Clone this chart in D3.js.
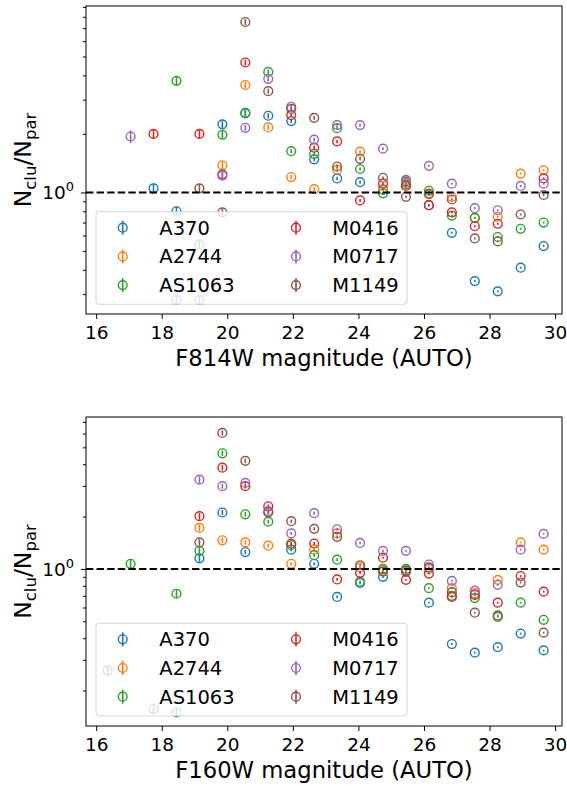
<!DOCTYPE html>
<html>
<head>
<meta charset="utf-8">
<script src="https://cdn.jsdelivr.net/npm/d3@7"></script>
<style>
body { margin: 0; background: #fff; }
text { font-family: "DejaVu Sans", sans-serif; }
</style>
</head>
<body>
<svg id="fig"></svg>
<script>
// magnitude bin centres
var binsF814 = [17.05, 17.75, 18.45, 19.15, 19.85, 20.55, 21.25, 21.95, 22.65, 23.35,
                24.05, 24.75, 25.45, 26.15, 26.85, 27.55, 28.25, 28.95, 29.65];
var binsF160 = [16.35, 17.05, 17.75, 18.45, 19.15, 19.85, 20.55, 21.25, 21.95, 22.65, 23.35,
                24.05, 24.75, 25.45, 26.15, 26.85, 27.55, 28.25, 28.95, 29.65];

var clusters = ['A370', 'A2744', 'AS1063', 'M0416', 'M0717', 'M1149'];
var colors = ['#1f77b4', '#ff7f0e', '#2ca02c', '#d62728', '#9467bd', '#8c564b'];

// N_clu / N_par, F814W panel
var f814_A370   = [null, 1.05, 0.80, null, 2.24, 2.57, 2.48, 2.33, 1.48, 1.18, 1.13, 1.03, 1.14, 0.86, 0.62, 0.35, 0.31, 0.41, 0.53];
var f814_A2744  = [null, null, null, null, 1.38, 3.57, 2.16, 1.20, 1.04, 1.31, 1.62, 1.04, 1.12, 0.99, 0.95, 0.74, 0.75, 1.25, 1.30];
var f814_AS1063 = [null, null, 3.75, 0.54, 1.98, 2.55, 4.17, 1.63, 1.58, 2.14, 1.32, 0.99, 1.10, 1.02, 0.76, 0.74, 0.59, 0.65, 0.70];
var f814_M0416  = [null, 2.00, null, 2.00, 1.24, 4.66, null, 2.50, 1.70, 1.83, 0.91, 1.11, 1.08, 0.86, 0.79, 0.67, 0.69, null, 1.18];
var f814_M0717  = [1.94, null, 0.28, 0.28, 1.22, 2.15, 3.84, 2.76, 1.87, 2.22, 2.22, 1.68, 1.16, 1.37, 1.11, 0.83, 0.81, 1.08, 1.11];
var f814_M1149  = [null, null, null, 1.05, 0.79, 7.53, 3.32, 2.69, 2.42, 1.36, 1.49, 1.19, 0.95, 0.98, 0.92, 0.58, 0.56, 0.77, 0.97];
// fractional error per bin
var f814_err = [0.075, 0.06, 0.055, 0.05, 0.045, 0.035, 0.03, 0.025, 0.022, 0.02, 0.018, 0.016, 0.014, 0.012, 0.012, 0.012, 0.012, 0.012, 0.012];

// N_clu / N_par, F160W panel
var f160_A370   = [0.26, null, null, 0.15, 1.15, 2.11, 1.25, null, 1.29, 1.07, 0.69, 0.83, 0.90, 0.96, 0.64, 0.37, 0.33, 0.355, 0.425, 0.34];
var f160_A2744  = [null, null, null, null, 1.72, 1.46, 1.42, 1.36, 1.07, 1.29, 1.60, 1.02, 0.98, 0.97, 1.00, 0.775, 0.725, 0.865, 1.42, 1.29];
var f160_AS1063 = [null, 1.07, null, 0.72, 1.27, 4.62, 2.06, 1.87, 1.37, 1.20, 1.13, 0.845, 1.00, 1.00, 0.775, 0.70, 0.68, 0.53, 0.64, 0.51];
var f160_M0416  = [null, null, null, null, 2.01, 3.82, 2.99, 2.29, 1.40, 1.40, 0.87, 0.95, 1.16, 0.865, 0.94, 0.69, 0.71, 0.64, 0.91, 0.74];
var f160_M0717  = [null, null, null, null, 3.26, 2.99, 3.12, 2.15, 1.60, 2.09, 1.69, 1.41, 1.27, 1.27, 1.06, 0.853, 0.75, 0.81, 1.29, 1.59];
var f160_M1149  = [null, null, 0.157, null, 1.42, 6.05, 4.18, 2.11, 1.88, 1.70, 1.53, 1.05, 0.965, 0.98, 1.02, 0.735, 0.56, 0.54, 0.835, 0.43];
var f160_err = [0.07, 0.065, 0.06, 0.055, 0.045, 0.035, 0.03, 0.025, 0.022, 0.02, 0.018, 0.016, 0.014, 0.012, 0.012, 0.012, 0.012, 0.012, 0.012, 0.012];

var xTicks = [16, 18, 20, 22, 24, 26, 28, 30];

var width = 567, height = 786;
var svg = d3.select('#fig').attr('width', width).attr('height', height);
svg.append('rect').attr('width', width).attr('height', height).attr('fill', '#fff');

var left = 86, right = 562;

drawPanel({
    bins: binsF814,
    series: [f814_A370, f814_A2744, f814_AS1063, f814_M0416, f814_M0717, f814_M1149],
    err: f814_err,
    xlabel: 'F814W magnitude (AUTO)',
    yDomain: [0.237, 9.1],
    top: 6, bottom: 314,
    legendTop: 211.7
});

drawPanel({
    bins: binsF160,
    series: [f160_A370, f160_A2744, f160_AS1063, f160_M0416, f160_M0717, f160_M1149],
    err: f160_err,
    xlabel: 'F160W magnitude (AUTO)',
    yDomain: [0.125, 7.47],
    top: 417, bottom: 726,
    legendTop: 623.3
});

function drawPanel(p) {
    var x = d3.scaleLinear().domain([15.69, 30.21]).range([left, right]);
    var y = d3.scaleLog().domain(p.yDomain).range([p.bottom, p.top]);
    var g = svg.append('g');

    // points with error bars
    p.series.forEach(function(vals, i) {
        var pts = vals.map(function(v, j) { return {m: p.bins[j], v: v, e: p.err[j]}; })
                      .filter(function(d) { return d.v != null; });
        var sg = g.append('g');
        sg.selectAll('line').data(pts).join('line')
            .attr('x1', d => x(d.m)).attr('x2', d => x(d.m))
            .attr('y1', d => y(d.v * (1 - d.e))).attr('y2', d => y(d.v * (1 + d.e)))
            .attr('stroke', colors[i]).attr('stroke-width', 1.6);
        sg.selectAll('circle').data(pts).join('circle')
            .attr('cx', d => x(d.m)).attr('cy', d => y(d.v))
            .attr('r', 4.4)
            .attr('fill', 'none').attr('stroke', colors[i]).attr('stroke-width', 1.4);
    });

    // y = 1 line
    g.append('line')
        .attr('x1', left).attr('x2', right)
        .attr('y1', y(1)).attr('y2', y(1))
        .attr('stroke', '#000').attr('stroke-width', 2)
        .attr('stroke-dasharray', '7.4,3.2');

    // legend
    var lg = g.append('g').attr('transform', `translate(96, ${p.legendTop})`);
    lg.append('rect').attr('width', 311).attr('height', 92.6)
        .attr('rx', 3).attr('fill', '#fff').attr('fill-opacity', 0.8)
        .attr('stroke', '#cccccc').attr('stroke-opacity', 0.8);
    clusters.forEach(function(c, i) {
        var col = Math.floor(i / 3), row = i % 3;
        var mx = col === 0 ? 26.7 : 200;
        var tx = col === 0 ? 63.3 : 236.3;
        var cy = 16 + row * 28.7;
        lg.append('line').attr('x1', mx).attr('x2', mx)
            .attr('y1', cy - 7).attr('y2', cy + 7)
            .attr('stroke', colors[i]).attr('stroke-width', 1.6);
        lg.append('circle').attr('cx', mx).attr('cy', cy).attr('r', 4.4)
            .attr('fill', 'none').attr('stroke', colors[i]).attr('stroke-width', 1.4);
        lg.append('text').attr('x', tx).attr('y', cy + 7)
            .attr('font-size', 19.5).text(c);
    });

    // frame
    g.append('rect').attr('x', left).attr('y', p.top)
        .attr('width', right - left).attr('height', p.bottom - p.top)
        .attr('fill', 'none').attr('stroke', '#000').attr('stroke-width', 1);

    // x axis
    var xaxis = d3.axisBottom(x).tickValues(xTicks).tickSize(5).tickPadding(7)
        .tickFormat(d3.format('d'));
    var xg = g.append('g').attr('transform', `translate(0, ${p.bottom})`).call(xaxis);
    xg.select('.domain').remove();
    xg.selectAll('text').attr('font-size', 18.5).attr('fill', '#000')
        .attr('font-family', '"DejaVu Sans", sans-serif');

    // y axis: minor ticks
    var minors = [];
    [0.1, 1].forEach(function(dec) {
        for (var k = 2; k <= 9; k++) {
            var v = k * dec;
            if (v >= p.yDomain[0] && v <= p.yDomain[1]) minors.push(v);
        }
    });
    var yminor = d3.axisLeft(y).tickValues(minors).tickSize(3).tickFormat('');
    var ym = g.append('g').attr('transform', `translate(${left}, 0)`).call(yminor);
    ym.select('.domain').remove();

    var ymajor = d3.axisLeft(y).tickValues([1]).tickSize(5).tickFormat('');
    var yM = g.append('g').attr('transform', `translate(${left}, 0)`).call(ymajor);
    yM.select('.domain').remove();
    var lab = g.append('text').attr('x', left - 12).attr('y', y(1) + 7)
        .attr('text-anchor', 'end').attr('font-size', 18.5);
    lab.append('tspan').text('10');
    lab.append('tspan').attr('font-size', 13).attr('dy', -8).text('0');

    // axis labels
    g.append('text').attr('x', (left + right) / 2).attr('y', p.bottom + 52)
        .attr('text-anchor', 'middle').attr('font-size', 22.7).text(p.xlabel);

    var yl = g.append('text')
        .attr('transform', `translate(31, ${(p.top + p.bottom) / 2}) rotate(-90)`)
        .attr('text-anchor', 'middle').attr('font-size', 23.5);
    yl.append('tspan').text('N');
    yl.append('tspan').attr('font-size', 16.5).attr('dy', 5).text('clu');
    yl.append('tspan').attr('dy', -5).text('/N');
    yl.append('tspan').attr('font-size', 16.5).attr('dy', 5).text('par');
}
</script>
</body>
</html>
